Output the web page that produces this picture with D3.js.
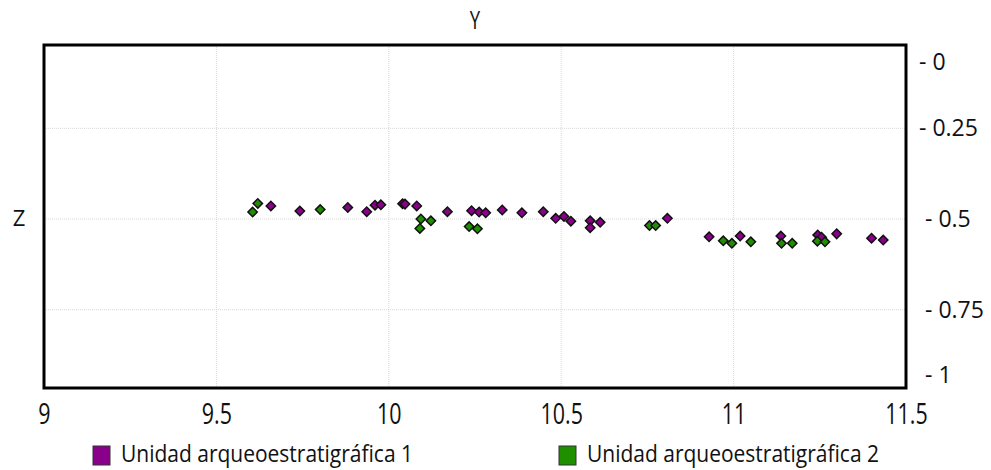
<!DOCTYPE html>
<html>
<head>
<meta charset="utf-8">
<script src="https://cdn.jsdelivr.net/npm/d3@7"></script>
<style>
  body { margin: 0; background: #fff; }
  text { font-family: "Open Sans", sans-serif; fill: #111; }
</style>
</head>
<body>
<div id="chart"></div>
<script>
const seriesNames = ["Unidad arqueoestratigráfica 1", "Unidad arqueoestratigráfica 2"];
const seriesColors = ["#8b008b", "#1f8f00"];

// Y (horizontal) and Z (depth) per unit
const unit1Y = [9.658, 9.742, 9.881, 9.936, 9.960, 9.977, 10.040, 10.047, 10.081, 10.170,
  10.240, 10.262, 10.281, 10.329, 10.386, 10.448, 10.484, 10.508, 10.528, 10.584,
  10.584, 10.613, 10.808, 10.929, 11.019, 11.137, 11.244, 11.255, 11.299, 11.400, 11.434];
const unit1Z = [0.464, 0.478, 0.468, 0.480, 0.462, 0.461, 0.458, 0.459, 0.464, 0.480,
  0.477, 0.481, 0.483, 0.475, 0.483, 0.480, 0.498, 0.493, 0.506, 0.505,
  0.524, 0.509, 0.498, 0.549, 0.547, 0.547, 0.544, 0.550, 0.541, 0.553, 0.558];

const unit2Y = [9.605, 9.620, 9.801, 10.093, 10.122, 10.090, 10.233, 10.257, 10.756, 10.774,
  10.970, 10.995, 11.050, 11.139, 11.170, 11.243, 11.265];
const unit2Z = [0.481, 0.457, 0.474, 0.500, 0.505, 0.526, 0.521, 0.527, 0.518, 0.518,
  0.560, 0.567, 0.563, 0.567, 0.567, 0.561, 0.563];

const xTicks = [9, 9.5, 10, 10.5, 11, 11.5];
const zTicks = [0, 0.25, 0.5, 0.75, 1];

const w = 991, h = 470;
const plot = { left: 44, right: 906, top: 45, bottom: 388 };

const svg = d3.select("#chart").append("svg")
  .attr("width", w)
  .attr("height", h);

const xSc = d3.scaleLinear().domain([9, 11.5]).range([plot.left, plot.right]);
const zSc = d3.scaleLinear().domain([0, 1]).range([37.6, 400.4]);

// grid
svg.append("g")
  .selectAll("line")
  .data(xTicks.filter(d => d > 9 && d < 11.5))
  .join("line")
    .attr("x1", d => xSc(d)).attr("x2", d => xSc(d))
    .attr("y1", plot.top).attr("y2", plot.bottom)
    .attr("stroke", "#d8d8d8")
    .attr("stroke-dasharray", "1,1");

svg.append("g")
  .selectAll("line")
  .data(zTicks.filter(d => d > 0 && d < 1))
  .join("line")
    .attr("x1", plot.left).attr("x2", plot.right)
    .attr("y1", d => zSc(d)).attr("y2", d => zSc(d))
    .attr("stroke", "#d8d8d8")
    .attr("stroke-dasharray", "1,1");

// x axis labels
const xAxis = svg.append("g")
  .attr("transform", `translate(0,${plot.bottom})`)
  .call(d3.axisBottom(xSc).tickValues(xTicks).tickSize(0).tickPadding(0).tickFormat(d3.format("")));
xAxis.select(".domain").remove();
xAxis.selectAll("text")
  .attr("dy", null)
  .attr("y", 0)
  .style("font-family", "'Open Sans', sans-serif")
  .style("font-size", "29px")
  .attr("fill", "#111")
  .attr("transform", "translate(0,36) scale(0.74,1)");

// z axis labels on the right
const zAxis = svg.append("g")
  .attr("transform", `translate(${plot.right},0)`)
  .call(d3.axisRight(zSc).tickValues(zTicks).tickSize(0).tickPadding(0).tickFormat(d => "- " + d));
zAxis.select(".domain").remove();
zAxis.selectAll(".tick")
  .attr("transform", d => `translate(0,${Math.max(plot.top + 17, Math.min(plot.bottom - 13, zSc(d)))})`);
zAxis.selectAll("text")
  .attr("x", d => d < 0.5 ? 13 : 19)
  .attr("dy", "0.35em")
  .style("font-family", "'Open Sans', sans-serif")
  .style("font-size", "23px")
  .attr("fill", "#111");

// points
const diamond = d3.symbol().type(d3.symbolSquare).size(44);
const series = [
  { name: seriesNames[0], color: seriesColors[0], pts: unit1Y.map((y, i) => [y, unit1Z[i]]) },
  { name: seriesNames[1], color: seriesColors[1], pts: unit2Y.map((y, i) => [y, unit2Z[i]]) }
];

series.forEach(s => {
  svg.append("g")
    .selectAll("path")
    .data(s.pts)
    .join("path")
      .attr("d", diamond)
      .attr("transform", d => `translate(${xSc(d[0])},${zSc(d[1])}) rotate(45)`)
      .attr("fill", s.color)
      .attr("stroke", "#111")
      .attr("stroke-width", 1.5);
});

// frame
svg.append("rect")
  .attr("x", plot.left).attr("y", plot.top)
  .attr("width", plot.right - plot.left)
  .attr("height", plot.bottom - plot.top)
  .attr("fill", "none")
  .attr("stroke", "#000")
  .attr("stroke-width", 3);

// titles
svg.append("text")
  .attr("transform", `translate(${(plot.left + plot.right) / 2},29) scale(0.74,1)`)
  .attr("text-anchor", "middle")
  .style("font-size", "25px")
  .text("Y");

svg.append("text")
  .attr("x", 19).attr("y", 226)
  .attr("text-anchor", "middle")
  .style("font-size", "22px")
  .text("Z");

// legend
const legend = svg.append("g");
const legendX = [93, 559];
series.forEach((s, i) => {
  legend.append("rect")
    .attr("x", legendX[i]).attr("y", 446)
    .attr("width", 17).attr("height", 19)
    .attr("fill", s.color)
    .attr("stroke", "#333")
    .attr("stroke-width", 1);
  legend.append("text")
    .attr("transform", `translate(${legendX[i] + 28},462) scale(0.875,1)`)
    .style("font-size", "24px")
    .text(s.name);
});
</script>
</body>
</html>
